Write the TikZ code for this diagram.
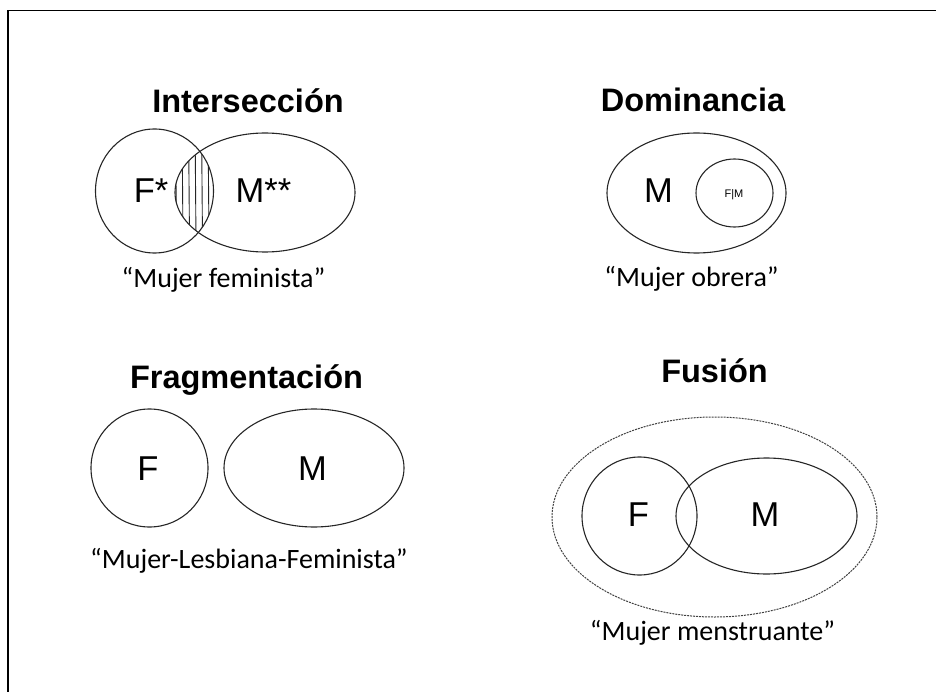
\documentclass[tikz,border=0pt]{standalone}
\usepackage{fontspec}
\setmainfont{Liberation Sans}
\newfontfamily\quotefont{Carlito}
\usetikzlibrary{shapes.geometric}
\tikzset{
  set/.style={shape=ellipse, draw=black!85, line width=1.1pt, inner sep=0pt, outer sep=0pt},
  outerset/.style={shape=ellipse, draw=black!75, line width=1pt, dash pattern=on 2pt off 1pt, inner sep=0pt, outer sep=0pt},
  titletext/.style={anchor=base, inner sep=0pt, font=\fontsize{32.5}{36}\selectfont\bfseries},
  lab/.style={anchor=base, inner sep=0pt, font=\fontsize{34.5}{38}\selectfont},
  quotecap/.style={anchor=base, inner sep=0pt, font=\quotefont\fontsize{28}{32}\selectfont},
  frameline/.style={draw=black, line width=1.3pt}
}
\begin{document}
\begin{tikzpicture}[x=1pt,y=-1pt]
\useasboundingbox (0,0) rectangle (936,692);
% frame
\coordinate (tl) at (8,10.5);
\coordinate (tr) at (936,10.5);
\coordinate (bl) at (8,692);
\draw[frameline] (tr) -- (tl) -- (bl);

% ---------- Interseccion ----------
\node[titletext] (t1) at (248,113) {Intersección};
\node[set, minimum width=118pt, minimum height=124pt] (i1F) at (154.5,191) {};
\node[set, minimum width=180pt, minimum height=119pt] (i1M) at (265,192.5) {};
\begin{scope}
  \clip (154.5,191) ellipse [x radius=59pt, y radius=62pt];
  \clip (265,192.5) ellipse [x radius=90pt, y radius=59.5pt];
  \foreach \xx in {169,175.5,182,188.5,195,201.5,208,214.5}
    \draw[black!85, line width=0.9pt] (\xx,120) -- (\xx+1.2,265);
\end{scope}
\node[lab] (i1Fl) at (151,203) {F*};
\node[lab] (i1Ml) at (263.5,203) {M**};
\node[quotecap] (c1) at (223.5,288) {“Mujer feminista”};

% ---------- Dominancia ----------
\node[titletext] (t2) at (693,112) {Dominancia};
\node[set, minimum width=179pt, minimum height=120pt] (d1M) at (696.5,193) {};
\node[set, minimum width=77pt, minimum height=68pt] (d1F) at (734.5,193) {};
\node[lab] (d1Ml) at (658.5,203) {M};
\node[anchor=base, inner sep=0pt, font=\fontsize{11}{12}\selectfont] (d1Fl) at (734,197.5) {F|M};
\node[quotecap] (c2) at (691.5,287) {“Mujer obrera”};

% ---------- Fragmentacion ----------
\node[titletext] (t3) at (246.5,388) {Fragmentación};
\node[set, minimum width=117pt, minimum height=118pt] (f1F) at (149.5,468) {};
\node[set, minimum width=180pt, minimum height=118pt] (f1M) at (314,468) {};
\node[lab] (f1Fl) at (148,480) {F};
\node[lab] (f1Ml) at (312.5,480) {M};
\node[quotecap] (c3) at (249,568) {“Mujer-Lesbiana-Feminista”};

% ---------- Fusion ----------
\node[titletext] (t4) at (714.5,382) {Fusión};
\node[outerset, minimum width=325pt, minimum height=200pt] (u1O) at (714.5,517) {};
\node[set, minimum width=115pt, minimum height=118pt] (u1F) at (639.5,516) {};
\node[set, minimum width=181pt, minimum height=116pt] (u1M) at (766.5,516) {};
\node[lab] (u1Fl) at (638.5,526) {F};
\node[lab] (u1Ml) at (765,526) {M};
\node[quotecap] (c4) at (712.5,640) {“Mujer menstruante”};
\end{tikzpicture}
\end{document}
